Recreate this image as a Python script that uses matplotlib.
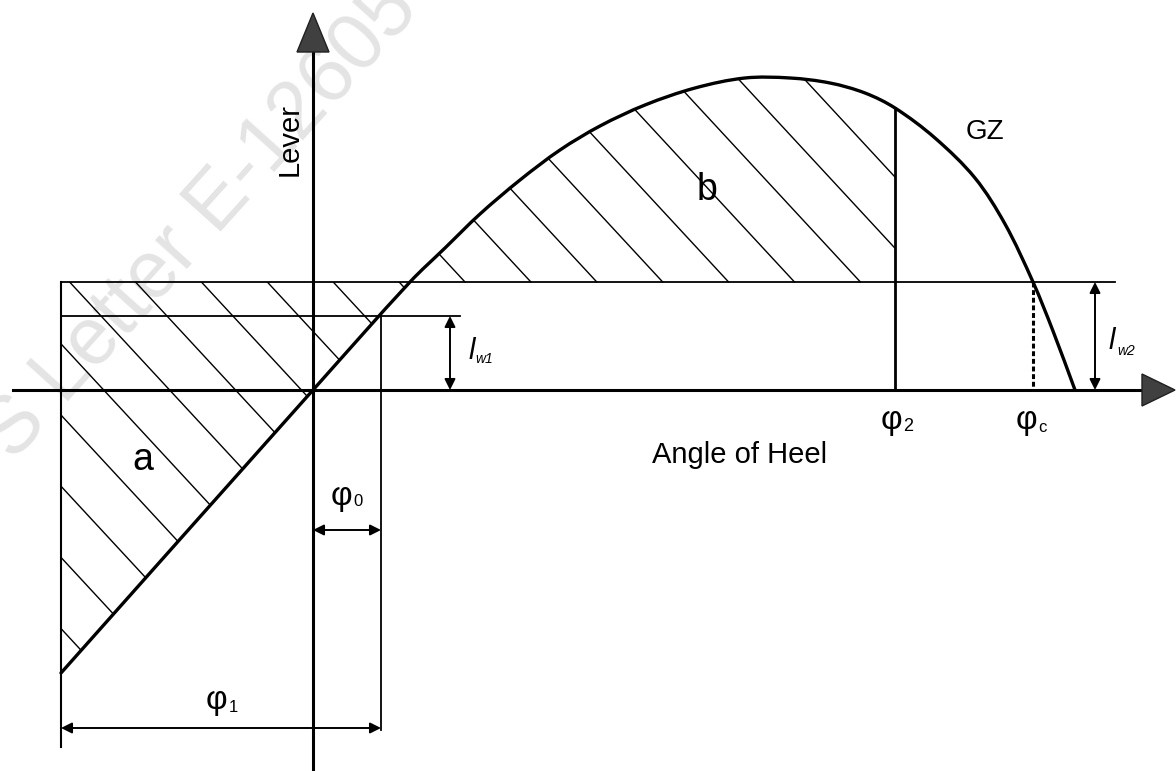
import numpy as np
import matplotlib.pyplot as plt
from matplotlib.patches import Polygon, PathPatch
from matplotlib.path import Path

plt.rcParams['font.family'] = ['Liberation Sans', 'DejaVu Sans']

# GZ curve (angle of heel in deg, lever)
gz_angle = [-25.2, 0.0, 9.7, 13.2, 16.7, 20.7, 24.7, 28.7, 33.2, 38.2, 43.2,
            47.7, 51.7, 55.2, 58.2, 62.2, 66.2, 69.2, 72.0, 74.0, 76.2]
gz_lever = [-2.83, 0.0, 1.08, 1.42, 1.76, 2.10, 2.40, 2.64, 2.85, 3.02, 3.12,
            3.12, 3.07, 2.97, 2.82, 2.52, 2.12, 1.66, 1.08, 0.59, 0.0]

# characteristic angles and wind levers
phi1 = -25.2
phi0 = 6.8
phi2 = 58.2
phic = 72.0
lw1 = 0.74
lw2 = 1.08

gz_angle = np.array(gz_angle)
gz_lever = np.array(gz_lever)

fig = plt.figure(figsize=(11.76, 7.71), dpi=100)
ax = fig.add_axes([0, 0, 1, 1])
ax.set_xlim(-31.3, 86.3)
ax.set_ylim(-3.81, 3.90)
ax.axis('off')


def smooth_path(xs, ys, sx=10.0, sy=100.0):
    # bezier path through the read points (chord-length tangents, screen-like scale)
    q = np.column_stack([xs * sx, ys * sy])
    t = np.concatenate([[0], np.cumsum(np.hypot(*np.diff(q, axis=0).T))])
    n = len(q)
    m = np.zeros_like(q)
    m[0] = (q[1] - q[0]) / (t[1] - t[0])
    m[-1] = (q[-1] - q[-2]) / (t[-1] - t[-2])
    for i in range(1, n - 1):
        m[i] = (q[i + 1] - q[i - 1]) / (t[i + 1] - t[i - 1])
    verts = [q[0]]
    codes = [Path.MOVETO]
    for i in range(n - 1):
        h = t[i + 1] - t[i]
        verts += [q[i] + m[i] * h / 3, q[i + 1] - m[i + 1] * h / 3, q[i + 1]]
        codes += [Path.CURVE4] * 3
    verts = np.array(verts) / [sx, sy]
    return verts, codes


# watermark
ax.text(-30.0, -0.72, 'S Letter E-1260577', rotation=48, rotation_mode='anchor',
        ha='left', va='baseline', fontsize=58, color='#e4e4e4', zorder=0)

# 1. hatched areas a and b
ip = int(np.argmax(gz_lever))
x_up = np.interp(lw2, gz_lever[:ip + 1], gz_angle[:ip + 1])
gz_phi2 = np.interp(phi2, gz_angle, gz_lever)

gz_verts, gz_codes = smooth_path(gz_angle, gz_lever)

poly_a = [(phi1, lw2), (x_up, lw2)]
poly_a += [(a, l) for a, l in zip(gz_angle[::-1], gz_lever[::-1]) if phi1 <= a < x_up]
clip_a = Polygon(poly_a, closed=True, fill=False, edgecolor='none')
ax.add_patch(clip_a)
clip_b = PathPatch(Path(np.vstack([gz_verts, gz_verts[:1]]), gz_codes + [Path.CLOSEPOLY]),
                   fill=False, edgecolor='none')
ax.add_patch(clip_b)

hatch_step = 6.59
hatch_slope = -0.108
for k in range(-12, 9):
    x0 = 15.2 + hatch_step * k
    # area a: from the lw2 line down to the right
    xs = np.array([x0, x0 + 60])
    line, = ax.plot(xs, lw2 + hatch_slope * (xs - x0), color='black', lw=1.0, zorder=2)
    line.set_clip_path(clip_a)
    # area b: from the lw2 line (or phi2) up to the left
    if x0 > x_up:
        xb = min(x0, phi2)
        xs = np.array([xb, x0 - 60])
        line, = ax.plot(xs, lw2 + hatch_slope * (xs - x0), color='black', lw=1.0, zorder=2)
        line.set_clip_path(clip_b)

# 2. axes with arrow heads
ax.plot([0, 0], [-3.81, 3.38], color='black', lw=2.2, zorder=3)
ax.add_patch(Polygon([(-1.6, 3.38), (1.6, 3.38), (0, 3.77)], closed=True,
                     facecolor='#404040', edgecolor='#202020', lw=1, zorder=4))
ax.plot([-30.0, 82.9], [0, 0], color='black', lw=2.2, zorder=3)
ax.add_patch(Polygon([(82.9, 0.16), (82.9, -0.16), (86.2, 0)], closed=True,
                     facecolor='#404040', edgecolor='#202020', lw=1, zorder=4))

# 3. GZ curve
ax.add_patch(PathPatch(Path(gz_verts, gz_codes), fill=False, edgecolor='black',
                       lw=2.4, zorder=5, capstyle='round'))

# 4. wind heeling levers and construction lines
ax.plot([phi1, 80.2], [lw2, lw2], color='black', lw=1.3, zorder=3)
ax.plot([phi1, 14.7], [lw1, lw1], color='black', lw=1.3, zorder=3)
ax.plot([phi1, phi1], [lw2, -3.57], color='black', lw=1.5, zorder=3)
ax.plot([phi0, phi0], [lw1, -3.40], color='black', lw=1.3, zorder=3)
ax.plot([phi2, phi2], [gz_phi2, 0], color='black', lw=2.0, zorder=3)
ax.plot([phic, phic], [lw2, 0], color='black', lw=2.2, ls=(0, (1.6, 0.9)), zorder=3)

# dimension arrows
arr = dict(arrowstyle='<|-|>', color='black', lw=1.4, mutation_scale=16, shrinkA=0, shrinkB=0)
ax.annotate('', xy=(13.7, lw1), xytext=(13.7, 0), arrowprops=arr, zorder=4)
ax.annotate('', xy=(78.2, lw2), xytext=(78.2, 0), arrowprops=arr, zorder=4)
ax.annotate('', xy=(phi0, -1.40), xytext=(0, -1.40), arrowprops=arr, zorder=4)
ax.annotate('', xy=(phi0, -3.38), xytext=(phi1, -3.38), arrowprops=arr, zorder=4)

# 5. labels
ax.text(-2.3, 2.50, 'Lever', rotation=90, ha='center', va='center', fontsize=21)
ax.text(67.2, 2.58, 'GZ', ha='center', va='center', fontsize=20)
ax.text(39.4, 2.0, 'b', ha='center', va='center', fontsize=27)
ax.text(-17.0, -0.70, 'a', ha='center', va='center', fontsize=27)
ax.text(42.7, -0.65, 'Angle of Heel', ha='center', va='center', fontsize=21)

ax.text(57.8, -0.31, 'φ', ha='center', va='center', fontsize=24)
ax.text(59.5, -0.37, '2', ha='center', va='center', fontsize=13)
ax.text(71.3, -0.31, 'φ', ha='center', va='center', fontsize=24)
ax.text(72.9, -0.38, 'c', ha='center', va='center', fontsize=12)
ax.text(2.8, -1.07, 'φ', ha='center', va='center', fontsize=24)
ax.text(4.5, -1.12, '0', ha='center', va='center', fontsize=12)
ax.text(-9.7, -3.11, 'φ', ha='center', va='center', fontsize=24)
ax.text(-8.0, -3.18, '1', ha='center', va='center', fontsize=12)

ax.text(15.9, 0.39, 'l', style='italic', ha='center', va='center', fontsize=21)
ax.text(17.1, 0.31, 'w1', style='italic', ha='center', va='center', fontsize=10)
ax.text(79.9, 0.49, 'l', style='italic', ha='center', va='center', fontsize=21)
ax.text(81.3, 0.39, 'w2', style='italic', ha='center', va='center', fontsize=10)

fig.savefig('out.png', dpi=100)
